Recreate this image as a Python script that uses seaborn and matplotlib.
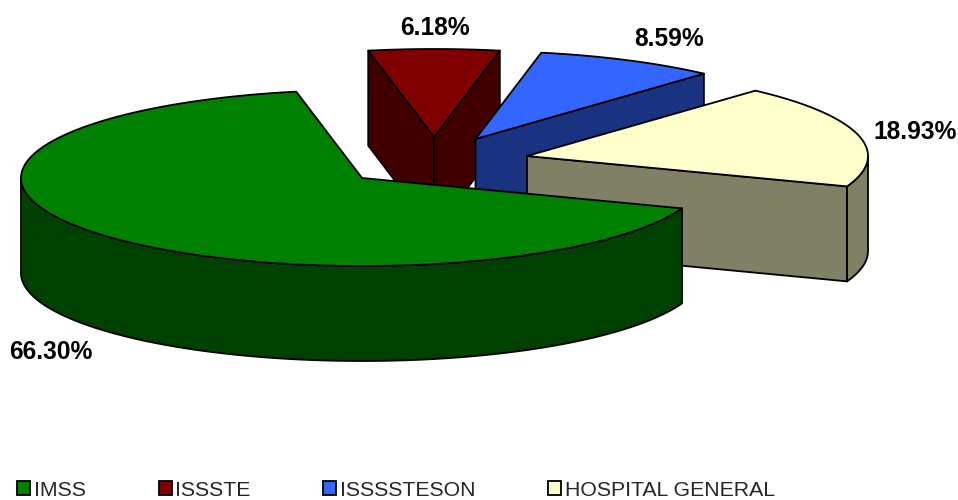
import numpy as np
import matplotlib
matplotlib.use("Agg")
import matplotlib.pyplot as plt
from matplotlib.patches import Patch
import seaborn as sns

# Share of each institution, in drawing order of the pie
CATEGORIES = ["IMSS", "ISSSTE", "ISSSSTESON", "HOSPITAL GENERAL"]
SHARES = [66.30, 6.18, 8.59, 18.93]
LABELS = ["66.30%", "6.18%", "8.59%", "18.93%"]
TOP_COLORS = ["#008000", "#800000", "#3366FF", "#FFFFCC"]

# Layout of the fake 3D pie, in pixels of the 958x500 image
START_ANGLE = 339.8
RADIUS_X = 341
RADIUS_Y = 88
DEPTH = 95
CENTERS = [(362, 178), (434, 137), (475.5, 139), (527, 156)]
LABEL_POS = [(50.5, 352), (435, 28), (669, 39), (915, 132)]
DRAW_ORDER = [1, 2, 3, 0]


def rim(center, angle):
    """Point(s) on the top ellipse of a slice, angle in degrees."""
    rad = np.radians(angle)
    return center[0] + RADIUS_X * np.cos(rad), center[1] - RADIUS_Y * np.sin(rad)


def draw_face(ax, xs, ys, color):
    ax.fill(xs, ys, facecolor=color, edgecolor="black", linewidth=1.3, joinstyle="round")


def draw_slice(ax, center, start, end, color):
    """Draw one slice going clockwise from start to end (degrees, start > end)."""
    side = tuple(0.5 * c for c in matplotlib.colors.to_rgb(color))
    cx, cy = center

    # cut faces, only the ones turned to the viewer
    for angle, visible in [(start, np.cos(np.radians(start)) < 0),
                           (end, np.cos(np.radians(end)) > 0)]:
        if visible:
            ex, ey = rim(center, angle)
            draw_face(ax, [cx, ex, ex, cx], [cy, ey, ey + DEPTH, cy + DEPTH], side)

    # outer wall, only the front half of the ellipse
    for low, high in [(-180, 0), (180, 360)]:
        a0, a1 = max(end, low), min(start, high)
        if a1 > a0:
            angles = np.linspace(a0, a1, 120)
            xs, ys = rim(center, angles)
            draw_face(ax, np.r_[xs, xs[::-1]], np.r_[ys, ys[::-1] + DEPTH], side)

    # top
    angles = np.linspace(start, end, 240)
    xs, ys = rim(center, angles)
    draw_face(ax, np.r_[cx, xs], np.r_[cy, ys], color)


def main():
    sns.set_theme(style="white")
    plt.rcParams["font.family"] = ["Liberation Sans", "DejaVu Sans"]
    palette = sns.color_palette(TOP_COLORS)

    fig = plt.figure(figsize=(9.58, 5.0), dpi=100)
    ax = fig.add_axes([0, 0, 1, 1])
    ax.set_xlim(0, 958)
    ax.set_ylim(500, 0)
    ax.axis("off")

    # slice limits come from the shares
    spans = np.array(SHARES) / sum(SHARES) * 360
    starts = START_ANGLE - np.r_[0, np.cumsum(spans)[:-1]]
    ends = starts - spans

    for i in DRAW_ORDER:
        draw_slice(ax, CENTERS[i], starts[i], ends[i], palette[i])

    for label, (x, y) in zip(LABELS, LABEL_POS):
        ax.text(x, y, label, ha="center", va="center", fontsize=17.7,
                fontweight="bold", color="black")

    handles = [Patch(facecolor=c, edgecolor="black", linewidth=1.3) for c in palette]
    ax.legend(handles, CATEGORIES, ncol=4, loc="lower left", frameon=False,
              bbox_to_anchor=(17.2, 499.8), bbox_transform=ax.transData,
              fontsize=15.3, handlelength=0.61, handleheight=0.61,
              handletextpad=0.18, columnspacing=3.42, borderpad=0, borderaxespad=0)

    fig.savefig("out.png", dpi=100)


if __name__ == "__main__":
    main()
